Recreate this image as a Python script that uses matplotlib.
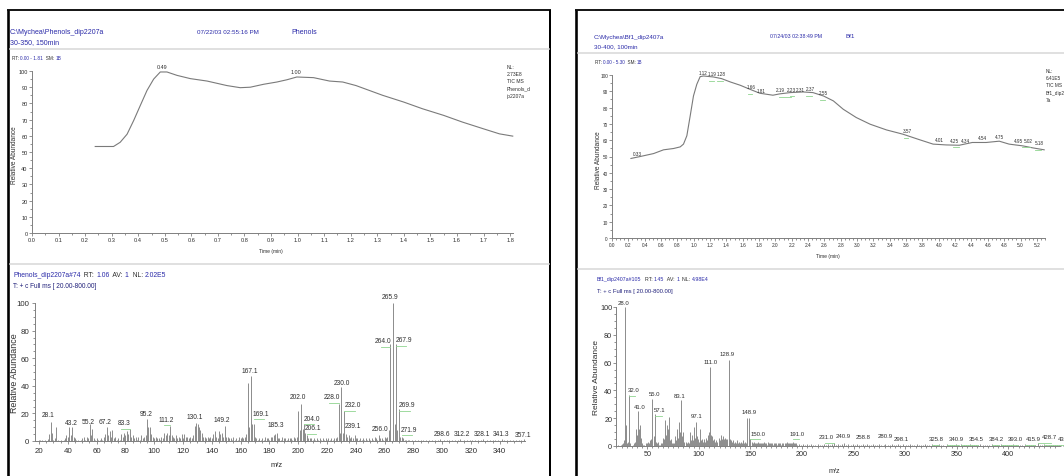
import matplotlib
matplotlib.use('Agg')
import matplotlib.pyplot as plt
from matplotlib.ticker import MultipleLocator, FormatStrFormatter

W, H, DPI = 1064, 477, 100
plt.rcParams['font.family'] = ['Liberation Sans', 'DejaVu Sans']

# ---------------- data ----------------
# Left chromatogram (Phenols)
tic1_time = [0.238, 0.307, 0.332, 0.358, 0.383, 0.408, 0.433, 0.458, 0.483, 0.508, 0.546, 0.596,
             0.659, 0.734, 0.784, 0.822, 0.872, 0.922, 0.960, 0.997, 1.06, 1.12, 1.17, 1.22, 1.27,
             1.32, 1.40, 1.47, 1.55, 1.62, 1.70, 1.76, 1.81]
tic1_abund = [53.4, 53.4, 56, 61, 69.5, 78.8, 88, 95, 99.4, 99.4, 97.3, 95.3,
              93.8, 91, 89.7, 90, 91.8, 93.2, 94.6, 96.3, 95.9, 93.8, 93.2, 91, 88,
              85, 80.8, 76.7, 72.6, 68.5, 64.3, 61.2, 59.8]
tic1_labels = ['0.49', '1.00']
tic1_label_x = [0.489, 0.994]
tic1_label_y = [102.5, 99.4]

# Right chromatogram (Bf1)
tic2_time = [0.232, 0.346, 0.509, 0.631, 0.753, 0.835, 0.875, 0.916, 0.957, 0.997, 1.038, 1.079,
             1.12, 1.24, 1.34, 1.45, 1.57, 1.69, 1.81, 1.97, 2.05, 2.18, 2.34, 2.46, 2.59, 2.71,
             2.83, 2.99, 3.16, 3.36, 3.56, 3.77, 3.93, 4.09, 4.25, 4.41, 4.58, 4.74, 4.86, 5.03,
             5.15, 5.29]
tic2_abund = [48.8, 50, 51.8, 54.1, 54.9, 55.9, 57.6, 62.7, 74.9, 87.1, 94.3, 99,
              99.4, 98.8, 97.8, 95.7, 93.7, 91.2, 88.8, 87.6, 88.4, 89.2, 89.6, 89.2, 87.1, 84.1,
              79, 73.9, 69.8, 66.3, 63.7, 60.2, 57.6, 57.1, 56.9, 58.6, 58.6, 59.4, 57.6, 56.5,
              55.3, 54.1]
tic2_labels = ['0.33', '1.12', '1.19', '1.28', '1.66', '1.81', '2.19', '2.23', '2.31', '2.37',
               '2.55', '3.57', '4.01', '4.25', '4.34', '4.54', '4.75', '4.95', '5.02', '5.18']
tic2_label_x = [0.305, 1.12, 1.23, 1.34, 1.70, 1.82, 2.06, 2.19, 2.31, 2.43,
                2.59, 3.61, 4.01, 4.19, 4.32, 4.54, 4.74, 4.97, 5.10, 5.23]
tic2_label_y = [52.1, 101.6, 101, 101, 93, 90.4, 91, 91.4, 91.4, 91.8,
                89.4, 65.8, 60.7, 60.1, 60.1, 61.5, 62.2, 60.1, 60.1, 58.7]

# Left mass spectrum (Phenols, scan #74)
ms1_mz = [20, 21, 22, 24, 26, 27, 28.1, 29, 30, 31, 32, 33, 35, 37, 38, 39, 40, 41, 42, 43.2, 44, 45, 46, 47, 49,
          50, 51, 52, 53, 54, 55.2, 56, 57, 58, 59, 60, 61, 62, 63, 64, 65, 66, 67.2, 68, 69, 70, 71, 72, 73, 74,
          75, 76, 77, 78, 79, 80, 81, 82, 83.3, 84, 85, 86, 87, 88, 89, 90, 91, 92, 93, 94, 95.2, 96, 97, 98, 99,
          100, 101, 102, 103, 104, 105, 106, 107, 108, 109, 110, 111.2, 112, 113, 114, 115, 116, 117, 118, 119,
          120, 121, 122, 123, 124, 125, 126, 127, 128, 129, 130.1, 131, 132, 133, 134, 135, 136, 137, 138, 139,
          140, 141, 142, 143, 144, 145, 146, 147, 148, 149.2, 150, 151, 152, 153, 154, 155, 156, 157, 158, 159,
          160, 161, 162, 163, 164, 165, 166, 167.1, 168, 169.1, 170, 171, 172, 173, 174, 175, 176, 177, 178, 179,
          180, 181, 182, 183, 184, 185.3, 186, 187, 188, 189, 190, 191, 192, 193, 194, 195, 196, 197, 198, 199,
          200, 201, 202.0, 203, 204.0, 205, 206.1, 207, 208, 209, 210, 211, 212, 213, 214, 215, 216, 217, 218, 219,
          220, 221, 222, 223, 224, 225, 226, 227, 228.0, 229, 230.0, 231, 232.0, 233, 234, 235, 236, 237, 238,
          239.1, 240, 241, 242, 243, 244, 245, 246, 247, 248, 249, 250, 251, 252, 253, 254, 255, 256.0, 257, 258,
          259, 260, 261, 262, 263, 264.0, 265.9, 266.9, 267.9, 268.9, 269.9, 271, 271.9, 273, 274, 275, 276, 277,
          279, 281, 283, 285, 287, 289, 291, 293, 295, 297, 298.6, 301, 303, 305, 307, 309, 311, 312.2, 315, 317,
          319, 321, 323, 325, 327, 328.1, 331, 333, 335, 337, 339, 341.3, 343, 345, 347, 349, 351, 353, 355, 357.1]
ms1_ab = [1, 0.8, 1, 1, 1.5, 5, 14, 6, 1, 2, 10, 1, 1, 1, 2, 4, 3, 10, 4, 10, 3, 2, 1, 1, 1,
          2, 3, 1, 3, 2, 12, 4, 9, 2, 1, 2, 1, 1, 2, 1, 3, 5, 10, 4, 7, 3, 8, 2, 3, 1,
          2, 1, 5, 3, 6, 4, 7, 5, 9, 3, 4, 2, 3, 1, 3, 1, 4, 2, 3, 4, 16, 10, 10, 5, 3,
          2, 3, 2, 2, 1, 3, 2, 6, 4, 6, 4, 11, 4, 3, 2, 4, 2, 3, 2, 5,
          2, 5, 3, 3, 2, 3, 2, 4, 11, 13, 12, 10, 8, 6, 3, 3, 2, 3, 2, 3,
          2, 5, 7, 3, 2, 7, 5, 6, 3, 11, 3, 3, 2, 2, 1, 3, 1, 2, 1, 3,
          2, 3, 2, 3, 5, 42, 10, 47, 12, 12, 3, 2, 1, 2, 1, 2, 1, 3, 2, 2,
          1, 3, 3, 4, 5, 6, 2, 2, 1, 3, 2, 2, 1, 2, 2, 2, 1, 3, 2, 3,
          22, 8, 27, 9, 12, 6, 4, 2, 2, 2, 1, 2, 1, 2, 1, 2, 1, 2, 1, 2,
          1, 2, 1, 2, 1, 2, 2, 3, 27, 6, 39, 6, 22, 5, 3, 4, 2, 3, 2,
          4, 2, 2, 1, 2, 1, 2, 1, 2, 1, 2, 1, 2, 1, 3, 2, 1, 4, 2, 2,
          1, 3, 2, 3, 8, 70, 100, 12, 70, 8, 23, 3, 3, 2, 1, 1, 1, 1,
          1, 1, 1, 1, 1, 1, 1, 1, 1, 1, 1.5, 1, 1, 1, 1, 1, 1, 1.5, 1, 1,
          1, 1, 1, 1, 1, 1.5, 1, 1, 1, 1, 1, 1.5, 1, 1, 1, 1, 1, 1, 1, 1.5]
ms1_labels = ['28.1', '43.2', '55.2', '67.2', '83.3', '95.2', '111.2', '130.1', '149.2', '167.1', '169.1',
              '185.3', '202.0', '204.0', '206.1', '228.0', '230.0', '232.0', '239.1', '256.0', '264.0',
              '265.9', '267.9', '269.9', '271.9', '298.6', '312.2', '328.1', '341.3', '357.1']
ms1_label_x = [26.5, 42.7, 54.2, 66.0, 79.0, 94.7, 108.6, 128.3, 146.8, 166.5, 174.1,
               184.5, 199.5, 209.3, 210.4, 223.1, 230.1, 237.7, 237.7, 256.7, 259.0,
               264.1, 273.4, 275.7, 277.1, 299.5, 313.4, 327.3, 341.1, 356.2]
ms1_label_y = [18.9, 13.3, 13.8, 13.8, 13.3, 20.1, 15.8, 17.7, 15.8, 51.0, 20.1,
               11.7, 32.0, 16.5, 9.7, 32.0, 42.5, 26.2, 10.9, 9.0, 72.8,
               104.4, 73.5, 26.2, 8.5, 5.3, 5.3, 5.3, 5.3, 4.4]

# Right mass spectrum (Bf1, scan #105)
ms2_mz = [20, 22, 24, 25, 26, 27, 28.0, 29, 30, 31, 32.0, 33, 36, 37, 38, 39, 40, 41.0, 42, 43, 44, 45, 46, 47,
          49, 50, 51, 52, 53, 54, 55.0, 56, 57.1, 58, 59, 60, 61, 62, 63, 64, 65, 66, 67, 68, 69, 70, 71, 72, 73,
          74, 75, 76, 77, 78, 79, 80, 81, 82, 83.1, 84, 85, 86, 87, 88, 89, 90, 91, 92, 93, 94, 95, 96, 97.1, 98,
          99, 100, 101, 102, 103, 104, 105, 106, 107, 108, 109, 110, 111.0, 112, 113, 114, 115, 116, 117, 118, 119,
          120, 121, 122, 123, 124, 125, 126, 127, 128.9, 130, 131, 132, 133, 134, 135, 136, 137, 138, 139, 140,
          141, 142, 143, 144, 145, 146, 147, 148.9, 150.0, 151, 152, 153, 154, 155, 156, 157, 158, 159, 160, 161,
          162, 163, 164, 165, 166, 167, 168, 169, 170, 171, 172, 173, 174, 175, 176, 177, 178, 179, 180, 181, 182,
          183, 184, 185, 186, 187, 188, 189, 190, 191.0, 192, 193, 194, 195,
          197, 199, 201, 203, 205, 207, 209, 211, 213, 215, 217, 219, 221, 223, 225, 227, 229, 231.0, 233, 235,
          237, 239, 240.9, 243, 245, 247, 249, 251, 253, 255, 257, 258.8, 261, 263, 265, 267, 269, 271, 273, 275,
          277, 279, 280.9, 283, 285, 287, 289, 291, 293, 295, 298.1, 301, 303, 305, 307, 309, 311, 313, 315, 317,
          319, 321, 323, 325.8, 328, 331, 333, 335, 337, 340.9, 343, 345, 347, 349, 351, 354.5, 357, 359, 361, 363,
          365, 367, 369, 371, 373, 375, 377, 379, 381, 384.2, 387, 389, 391, 393.0, 395, 397, 399, 401, 403, 405,
          407, 409, 411, 413, 415.9, 418, 420, 422, 424, 426, 428.7, 431, 433, 434.7, 437, 439, 441, 443, 445, 447,
          449, 451, 453]
ms2_ab = [1, 1, 1, 1.5, 2, 4, 100, 15, 2, 3, 37, 2, 1, 2, 3, 12, 8, 25, 12, 15, 6, 2, 1, 1,
          2, 2, 3, 2, 4, 5, 34, 7, 23, 3, 2, 3, 1, 1, 2, 2, 6, 5, 19, 8, 15, 12, 21, 4, 5,
          2, 2, 2, 7, 4, 12, 6, 17, 10, 33, 7, 10, 3, 3, 2, 3, 2, 10, 4, 8, 4, 14, 6, 17, 7,
          5, 3, 12, 4, 5, 3, 5, 3, 6, 4, 8, 10, 57, 8, 7, 4, 5, 3, 4, 3, 6,
          4, 8, 5, 7, 5, 6, 5, 5, 62, 5, 4, 3, 4, 2, 3, 2, 4, 2, 3, 2,
          3, 2, 4, 2, 3, 2, 20, 20, 5, 3, 2, 3, 2, 2, 2, 3, 2, 2, 2, 2,
          2, 3, 2, 2, 1, 3, 2, 2, 2, 2, 1, 2, 2, 2, 1, 2, 2, 2, 1, 2, 2,
          2, 2, 3, 2, 2, 2, 2, 2, 3, 2, 2, 2, 1,
          1.5, 1, 1.5, 1, 1.5, 1, 1.5, 1, 1, 1.5, 1, 1, 1.5, 1, 1.5, 1, 1.5, 2, 1, 1.5,
          1, 1.5, 2, 1, 1.5, 1, 1.5, 1, 1.5, 1, 1, 1.5, 1, 1.5, 1, 1, 1.5, 1, 1, 1.5,
          1, 1, 1.5, 1, 1, 1.5, 1, 1, 1.5, 1, 1.5, 1, 1, 1.5, 1, 1, 1.5, 1, 1, 1,
          1.5, 1, 1, 1.5, 1, 1, 1.5, 1, 1, 1.5, 1, 1, 1, 1.5, 1, 1.5, 1, 1, 1, 1.5,
          1, 1, 1, 1, 1.5, 1, 1, 1, 1, 1.5, 1, 1, 1, 1.5, 1, 1, 1, 1, 1, 1.5,
          1, 1, 1, 1, 1.5, 1, 1, 1, 1, 1, 2, 1, 1, 1.5, 1, 1, 1, 1, 1, 1,
          1, 1, 1]
ms2_labels = ['28.0', '32.0', '41.0', '55.0', '57.1', '83.1', '97.1', '111.0', '128.9', '148.9', '150.0',
              '191.0', '231.0', '240.9', '258.8', '280.9', '298.1', '325.8', '340.9', '354.5', '384.2',
              '393.0', '415.9', '428.7', '434.7']
ms2_label_x = [27.4, 36.4, 42.9, 56.8, 62.3, 81.7, 97.8, 111.4, 126.9, 148.9, 157.6,
               194.8, 223.9, 240.0, 259.4, 280.4, 296.6, 330.5, 350.0, 368.7, 388.7,
               407.0, 424.0, 439.5, 455.0]
ms2_label_y = [103, 40.5, 28.2, 38, 26, 36.6, 21.7, 61, 66.3, 24.6, 9.2,
               9.2, 6.7, 7.5, 6.7, 7.5, 5.5, 5.5, 5.5, 5.5, 5.5,
               5.5, 5.5, 7.0, 5.5]

# ---------------- drawing ----------------
AXC = '#808080'
TXT = '#2e2e2e'
BLUE = '#2a2aa8'
LINE = '#7a7a7a'
GREEN = '#8fd48f'

fig = plt.figure(figsize=(W / DPI, H / DPI), dpi=DPI)
fig.patch.set_facecolor('white')


def px_axes(x0, y0, x1, y1):
    return fig.add_axes([x0 / W, 1 - y1 / H, (x1 - x0) / W, (y1 - y0) / H])


def style(ax, xlim, xmaj, xmin, xfmt, ymaj, ymin, fs, tl, pad):
    ax.set_xlim(*xlim)
    ax.set_ylim(0, 100)
    ax.patch.set_alpha(0)
    for s in ['top', 'right']:
        ax.spines[s].set_visible(False)
    for s in ['left', 'bottom']:
        ax.spines[s].set_color(AXC)
        ax.spines[s].set_linewidth(0.7)
    ax.xaxis.set_major_locator(MultipleLocator(xmaj))
    ax.xaxis.set_minor_locator(MultipleLocator(xmin))
    ax.xaxis.set_major_formatter(FormatStrFormatter(xfmt))
    ax.yaxis.set_major_locator(MultipleLocator(ymaj))
    ax.yaxis.set_minor_locator(MultipleLocator(ymin))
    ax.tick_params(which='both', direction='out', color=AXC, width=0.6,
                   labelsize=fs, labelcolor=TXT, pad=pad)
    ax.tick_params(which='major', length=tl)
    ax.tick_params(which='minor', length=tl * 0.6)


def peak_labels(ax, labels, lx, ly, fs, shift_tol, half_w):
    for s, x, y in zip(labels, lx, ly):
        ax.text(x, y, s, ha='center', va='center', fontsize=fs, color=TXT, clip_on=False)
        p = float(s)
        if abs(x - p) > shift_tol:
            yl = y - 4.5
            if p > x:
                ax.plot([x - half_w * 0.3, p], [yl, yl], color=GREEN, lw=0.6, clip_on=False)
            else:
                ax.plot([p, x + half_w * 0.3], [yl, yl], color=GREEN, lw=0.6, clip_on=False)


# chromatograms
c1 = px_axes(32, 72, 32 + 1.81 * 265.6, 234)
style(c1, (0, 1.81), 0.1, 0.05, '%.1f', 10, 5, 4.1, 2.2, 1.0)
c1.plot(tic1_time, tic1_abund, color=LINE, lw=0.8, clip_on=False)
peak_labels(c1, tic1_labels, tic1_label_x, tic1_label_y, 3.9, 0.03, 0.02)

c2 = px_axes(612, 76, 612 + 5.30 * 81.7, 239)
style(c2, (0, 5.30), 0.2, 0.05, '%.1f', 10, 5, 3.4, 2.0, 1.0)
c2.plot(tic2_time, tic2_abund, color=LINE, lw=0.8, clip_on=False)
peak_labels(c2, tic2_labels, tic2_label_x, tic2_label_y, 3.3, 0.03, 0.05)

# mass spectra
m1 = px_axes(35, 304, 525, 442)
style(m1, (17.2, 357.5), 20, 5, '%d', 20, 5, 5.7, 2.5, 1.5)
m1.vlines(ms1_mz, 0, ms1_ab, color='#8c8c8c', lw=0.7, clip_on=False)
peak_labels(m1, ms1_labels, ms1_label_x, ms1_label_y, 4.8, 2.5, 6)

m2 = px_axes(616.4, 308, 616.4 + 429.9 * 1.0314, 447)
style(m2, (20, 449.9), 50, 5, '%d', 20, 5, 5.2, 2.0, 1.0)
m2.vlines(ms2_mz, 0, ms2_ab, color='#8c8c8c', lw=0.7, clip_on=False)
peak_labels(m2, ms2_labels, ms2_label_x, ms2_label_y, 4.3, 3.0, 7)

# overlay in pixel coordinates
ov = fig.add_axes([0, 0, 1, 1], zorder=10)
ov.set_xlim(0, W)
ov.set_ylim(H, 0)
ov.axis('off')

PXLW = 0.72
ov.plot([8, 8], [10.5, 477], color='black', lw=2.6 * PXLW, solid_capstyle='butt')
ov.plot([7, 551], [11, 11], color='black', lw=1.8 * PXLW, solid_capstyle='butt')
ov.plot([550, 550], [10.5, 477], color='black', lw=2.0 * PXLW, solid_capstyle='butt')
ov.plot([576, 576], [10.5, 477], color='black', lw=2.6 * PXLW, solid_capstyle='butt')
ov.plot([575, 1064], [11, 11], color='black', lw=1.8 * PXLW, solid_capstyle='butt')
for x0, x1, y in [(9.5, 549, 50), (9.5, 549, 265), (577.5, 1064, 54), (577.5, 1064, 270)]:
    ov.plot([x0, x1], [y, y], color='#d9d9d9', lw=1.6 * PXLW)


def rich(x, y, pieces, fs):
    t = ov.text(x, y, pieces[0][0], color=pieces[0][1], fontsize=fs, ha='left', va='center')
    for s, c in pieces[1:]:
        t = ov.annotate(s, xy=(1, 0), xycoords=t, va='bottom', ha='left', color=c, fontsize=fs)
    return t


# left panel header
ov.text(10, 33, 'C:\\Mychea\\Phenols_dip2207a', color=BLUE, fontsize=5.0, va='center')
ov.text(10, 43, '30-350, 150min', color=BLUE, fontsize=5.0, va='center')
ov.text(197, 33, '07/22/03 02:55:16 PM', color=BLUE, fontsize=4.5, va='center')
ov.text(291, 33, 'Phenols', color=BLUE, fontsize=5.0, va='center')
rich(12, 59, [('RT: ', TXT), ('0.00 - 1.81', BLUE), ('  SM: ', TXT), ('1B', BLUE)], 3.4)
ov.text(507, 65, 'NL:\n2.73E8\nTIC MS\nPhenols_d\nip2207a', color=TXT, fontsize=3.6,
        va='top', ha='left', linespacing=1.55)
ov.text(15, 155, 'Relative Abundance', rotation=90, fontsize=4.7, color=TXT, ha='center', va='center')
ov.text(271, 252, 'Time (min)', fontsize=3.6, color=TXT, ha='center', va='center')
rich(13, 276, [('Phenols_dip2207a#74', BLUE), ('  RT: ', TXT), ('1.06', BLUE), ('  AV: ', TXT),
               ('1', BLUE), ('  NL: ', TXT), ('2.02E5', BLUE)], 4.9)
rich(13, 287, [('T: + c Full ms [ 20.00-800.00]', '#20207a')], 4.7)
ov.text(15, 373, 'Relative Abundance', rotation=90, fontsize=6.4, color=TXT, ha='center', va='center')
ov.text(277, 466, 'm/z', fontsize=5.5, color=TXT, ha='center', va='center')

# right panel header
ov.text(594, 37, 'C:\\Mychea\\Bf1_dip2407a', color=BLUE, fontsize=4.5, va='center')
ov.text(594, 47, '30-400, 100min', color=BLUE, fontsize=4.5, va='center')
ov.text(770, 37, '07/24/03 02:38:49 PM', color=BLUE, fontsize=3.8, va='center')
ov.text(846, 37, 'Bf1', color=BLUE, fontsize=4.5, va='center')
rich(595, 63, [('RT: ', TXT), ('0.00 - 5.30', BLUE), ('  SM: ', TXT), ('1B', BLUE)], 3.3)
ov.text(1046, 69, 'NL:\n6.41E5\nTIC MS\nBf1_dip240\n7a', color=TXT, fontsize=3.4,
        va='top', ha='left', linespacing=1.55)
ov.text(598, 160, 'Relative Abundance', rotation=90, fontsize=4.7, color=TXT, ha='center', va='center')
ov.text(828, 257, 'Time (min)', fontsize=3.6, color=TXT, ha='center', va='center')
rich(597, 280, [('Bf1_dip2407a#105', BLUE), ('  RT: ', TXT), ('1.45', BLUE), ('  AV: ', TXT),
                ('1', BLUE), ('  NL: ', TXT), ('4.98E4', BLUE)], 3.8)
rich(597, 292, [('T: + c Full ms [ 20.00-800.00]', '#20207a')], 4.2)
ov.text(596, 378, 'Relative Abundance', rotation=90, fontsize=6.0, color=TXT, ha='center', va='center')
ov.text(834, 472, 'm/z', fontsize=5.2, color=TXT, ha='center', va='center')

fig.savefig('out.png', dpi=DPI)
